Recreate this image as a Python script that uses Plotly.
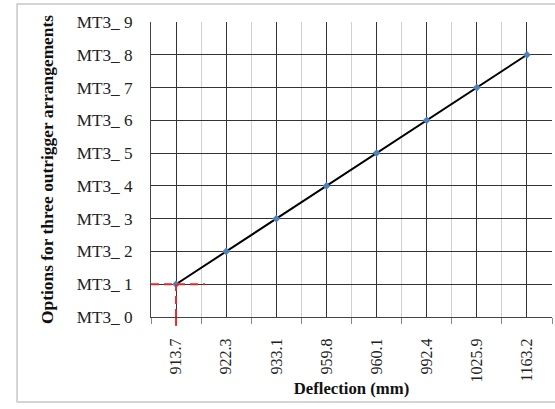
import plotly.graph_objects as go

deflection_labels = ["913.7", "922.3", "933.1", "959.8", "960.1", "992.4", "1025.9", "1163.2"]
option_values = [1, 2, 3, 4, 5, 6, 7, 8]
y_tick_values = [0, 1, 2, 3, 4, 5, 6, 7, 8, 9]
y_tick_labels = ["MT3_ 0", "MT3_ 1", "MT3_ 2", "MT3_ 3", "MT3_ 4",
                 "MT3_ 5", "MT3_ 6", "MT3_ 7", "MT3_ 8", "MT3_ 9"]

x_pos = list(range(len(deflection_labels)))
font_family = "Liberation Serif"

fig = go.Figure()
fig.add_trace(go.Scatter(
    x=x_pos, y=option_values, mode="lines+markers",
    line=dict(color="black", width=2),
    marker=dict(symbol="diamond", size=6, color="#4f81bd"),
    showlegend=False, cliponaxis=False,
))

red_dash = dict(color="#e8262a", width=2, dash="8px,5px")
# red dashed guide lines at the first point
fig.add_shape(type="line", xref="x", yref="y",
              x0=-0.5, x1=x_pos[0] + 0.58, y0=option_values[0], y1=option_values[0],
              line=red_dash, layer="above")
fig.add_shape(type="line", xref="x", yref="y",
              x0=x_pos[0], x1=x_pos[0], y0=0, y1=option_values[0],
              line=red_dash, layer="above")
fig.add_shape(type="line", xref="x", yref="paper",
              x0=x_pos[0], x1=x_pos[0], y0=-0.03, y1=0,
              line=red_dash, layer="above")

# outer chart border
fig.add_shape(type="rect", xref="paper", yref="paper",
              x0=-0.334, x1=1.02, y0=-0.288, y1=1.061,
              line=dict(color="#c8c8c8", width=1.5), layer="below")

fig.update_layout(
    width=555, height=409,
    margin=dict(l=151, r=3, t=22, b=92),
    paper_bgcolor="white", plot_bgcolor="white",
    font=dict(family=font_family, size=14, color="#222"),
    xaxis=dict(
        automargin=False,
        range=[-0.5, len(deflection_labels) - 0.5],
        tickmode="array", tickvals=x_pos, ticktext=deflection_labels,
        tickangle=-90, ticks="", showgrid=True, gridcolor="#333", gridwidth=1,
        showline=True, linecolor="#444", linewidth=1,
        zeroline=False,
        minor=dict(tick0=0.5, dtick=1, showgrid=True, gridcolor="#d0d0d0",
                   gridwidth=1, ticks="outside", ticklen=6, tickcolor="#888"),
        ticklabelstandoff=14,
        tickfont=dict(family=font_family, size=16),
        title=dict(text="<b>Deflection (mm)</b>", standoff=0,
                   font=dict(family=font_family, size=16.7, color="#111")),
    ),
    yaxis=dict(
        automargin=False,
        range=[0, 9], tickmode="array", tickvals=y_tick_values, ticktext=y_tick_labels,
        showgrid=True, gridcolor="#333", gridwidth=1,
        showline=True, linecolor="#444", linewidth=1, zeroline=False,
        ticks="", ticklabelstandoff=14,
        tickfont=dict(family=font_family, size=17.2),
        title=dict(text="<b>Options for three outrigger arrangements</b>", standoff=18,
                   font=dict(family=font_family, size=17.4, color="#111")),
    ),
)

fig.write_html("out.html", config={"displayModeBar": False},
               post_script="document.body.style.margin='0';document.body.style.overflow='hidden';")
